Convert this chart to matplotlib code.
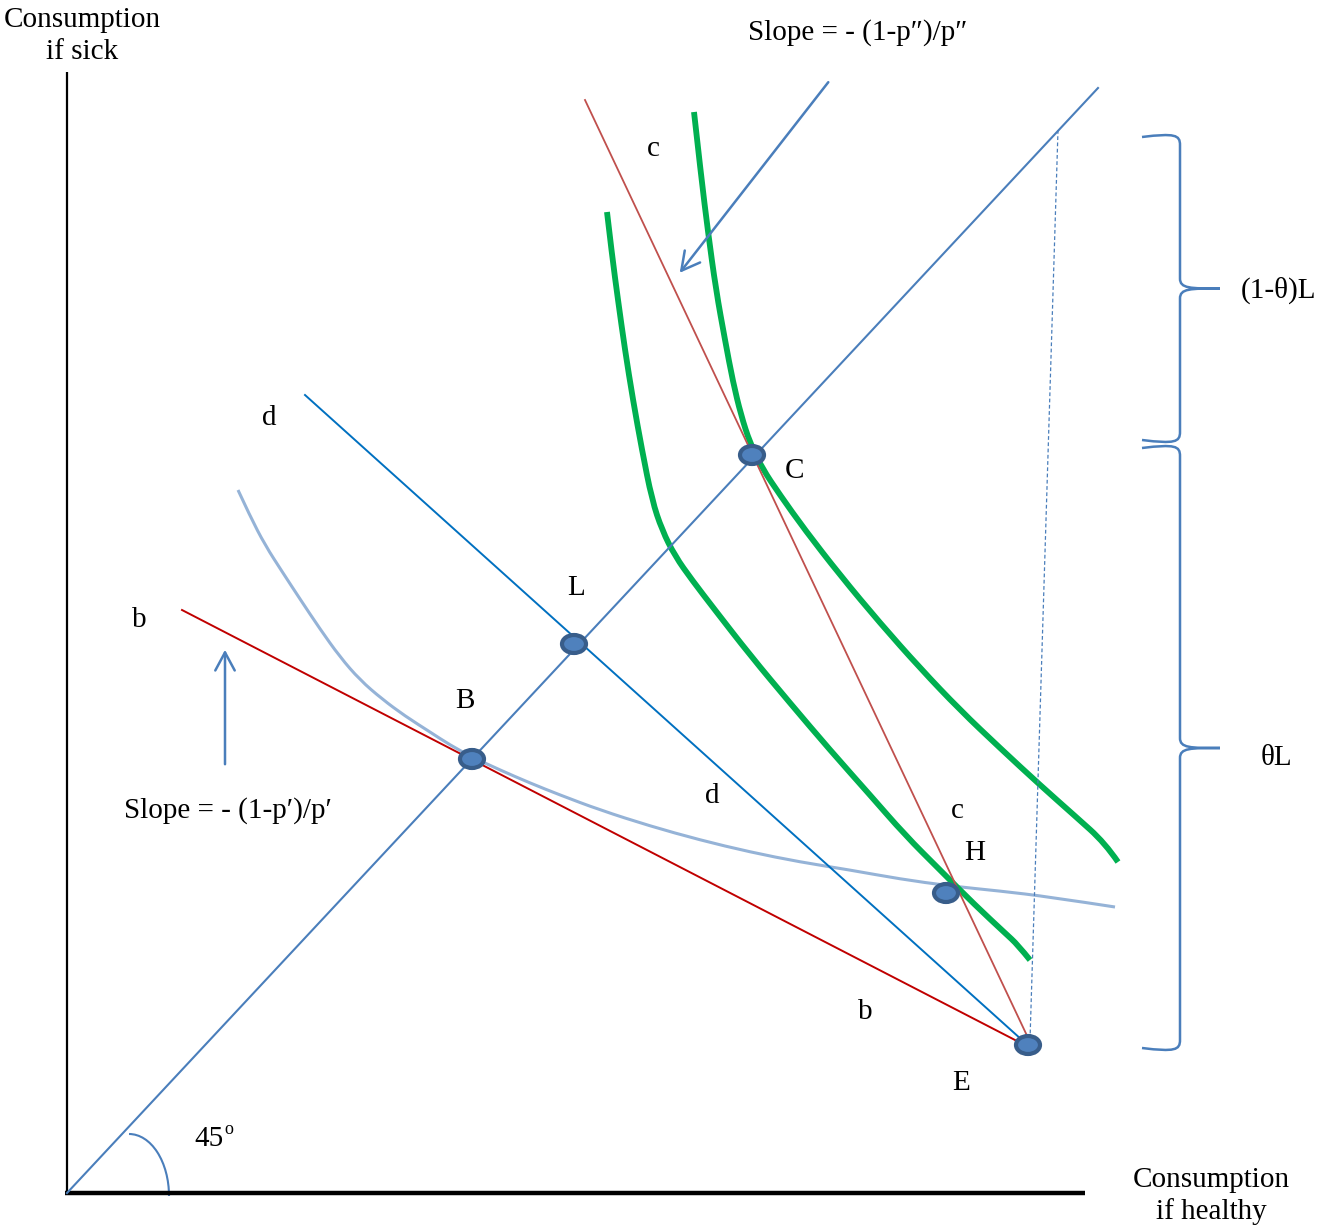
import matplotlib.pyplot as plt
from matplotlib.patches import Ellipse, Arc, FancyArrowPatch, PathPatch
from matplotlib.path import Path

# diagram drawn in picture coordinates (x right, y down)
diag_45 = [(67, 1193), (1098, 88)]
line_b = [(182, 610), (1015, 1040)]
line_d = [(305, 395), (1022, 1040)]
line_c = [(585, 100), (1030, 1042)]
guide_dotted = [(1058, 130), (1030, 1040)]

green_outer_x = [694, 701, 708, 716, 725, 733, 741, 750, 762, 780, 805, 840, 880, 920, 960, 1000, 1040, 1075, 1105, 1118]
green_outer_y = [112, 175, 232, 290, 340, 382, 415, 443, 468, 495, 530, 575, 623, 668, 710, 748, 785, 816, 843, 862]
green_inner_x = [607, 612, 618, 625, 633, 642, 652, 662, 675, 692, 715, 750, 790, 830, 870, 905, 940, 975, 1005, 1018, 1030]
green_inner_y = [212, 255, 300, 350, 400, 450, 500, 530, 556, 580, 610, 655, 703, 750, 795, 835, 870, 905, 933, 945, 960]

indiff_x = [238, 250, 265, 283, 300, 320, 340, 360, 382, 405, 430, 450, 472, 500, 530, 560, 600, 650, 700, 750, 800, 850, 900, 950, 1000, 1050, 1115]
indiff_y = [490, 516, 545, 573, 599, 629, 657, 680, 699, 716, 732, 745, 757, 770, 783, 795, 810, 826, 840, 852, 862, 870, 879, 886, 891, 897, 907]

points = {'B': (472, 759), 'L': (574, 644), 'C': (752, 455), 'H': (946, 893), 'E': (1028, 1045)}

BLUE = '#4A7EBB'
FONT = 'Liberation Serif'

fig = plt.figure(figsize=(13.19, 12.26), dpi=100)
ax = fig.add_axes([0, 0, 1, 1])
ax.set_xlim(0, 1319)
ax.set_ylim(1226, 0)
ax.axis('off')

# axes of the diagram
ax.plot([67, 67], [72, 1195], color='black', lw=1.6, solid_capstyle='butt')
ax.plot([65, 1085], [1193, 1193], color='black', lw=3.2, solid_capstyle='butt')


def seg(pts, **kw):
    ax.plot([p[0] for p in pts], [p[1] for p in pts], **kw)


def smooth(xs, ys, **kw):
    # quadratic bezier through midpoints, read points act as controls
    pts = list(zip(xs, ys))
    verts = [pts[0]]
    codes = [Path.MOVETO]
    for i in range(1, len(pts) - 1):
        mid = ((pts[i][0] + pts[i + 1][0]) / 2, (pts[i][1] + pts[i + 1][1]) / 2)
        if i == len(pts) - 2:
            mid = pts[-1]
        verts += [pts[i], mid]
        codes += [Path.CURVE3, Path.CURVE3]
    ax.add_patch(PathPatch(Path(verts, codes), fill=False, **kw))


seg(diag_45, color=BLUE, lw=1.5)
seg(line_b, color='#C00000', lw=1.4)
seg(line_d, color='#0070C0', lw=1.4)
seg(line_c, color='#C0504D', lw=1.3)
seg(guide_dotted, color=BLUE, lw=0.9, ls=(0, (3, 2)))

smooth(indiff_x, indiff_y, edgecolor='#95B3D7', lw=2.2)
smooth(green_outer_x, green_outer_y, edgecolor='#00B050', lw=4.2, capstyle='butt')
smooth(green_inner_x, green_inner_y, edgecolor='#00B050', lw=4.2, capstyle='butt')

# arrows
ax.add_patch(FancyArrowPatch((830, 80), (678, 275), arrowstyle='->,head_length=13,head_width=7',
                             color=BLUE, lw=1.8, mutation_scale=1))
ax.add_patch(FancyArrowPatch((225, 767), (225, 647), arrowstyle='->,head_length=13,head_width=7',
                             color=BLUE, lw=1.8, mutation_scale=1))

# equilibrium points
for name, (px, py) in points.items():
    ax.add_patch(Ellipse((px, py), 24, 18, facecolor='#4F81BD', edgecolor='#385D8A', lw=3, zorder=5))

# 45 degree arc
ax.add_patch(Arc((129, 1196), 80, 124, theta1=270, theta2=360, color=BLUE, lw=1.5))


# curly braces
def brace(top, bottom, x=1180, tip=1220, w=38):
    mid = (top + bottom) / 2
    verts = [(x - w, top + 2), (x - 5, top - 2), (x, top), (x, top + 10),
             (x, mid - 10),
             (x, mid), (x + 10, mid), (tip, mid),
             (x + 10, mid), (x, mid), (x, mid + 10),
             (x, bottom - 10),
             (x, bottom), (x - 5, bottom + 2), (x - w, bottom - 2)]
    codes = [Path.MOVETO, Path.CURVE4, Path.CURVE4, Path.CURVE4,
             Path.LINETO,
             Path.CURVE4, Path.CURVE4, Path.CURVE4,
             Path.CURVE4, Path.CURVE4, Path.CURVE4,
             Path.LINETO,
             Path.CURVE4, Path.CURVE4, Path.CURVE4]
    ax.add_patch(PathPatch(Path(verts, codes), fill=False, edgecolor=BLUE, lw=1.8))


brace(135, 442)
brace(446, 1050)


def label(x, y, s, size=21, **kw):
    ax.text(x, y, s, fontsize=size, family=FONT, ha='center', va='center', **kw)


label(82, 20, 'Consumption')
label(82, 52, 'if sick')
label(1211, 1180, 'Consumption')
label(1211, 1212, 'if healthy')
label(858, 33, 'Slope = - (1-p\u2033)/p\u2033')
label(228, 811, 'Slope = - (1-p\u2032)/p\u2032')
label(653, 149, 'c')
label(957, 811, 'c')
label(269, 418, 'd')
label(712, 796, 'd')
label(139, 620, 'b')
label(865, 1012, 'b')
label(576, 588, 'L')
label(465, 701, 'B')
label(795, 471, 'C')
label(975, 853, 'H')
label(961, 1083, 'E')
label(1278, 290, '(1-\u03b8)L')
label(1276, 758, '\u03b8L')
label(209, 1139, '45')
label(229, 1130, 'o', size=13)

fig.savefig('out.png', dpi=100)
